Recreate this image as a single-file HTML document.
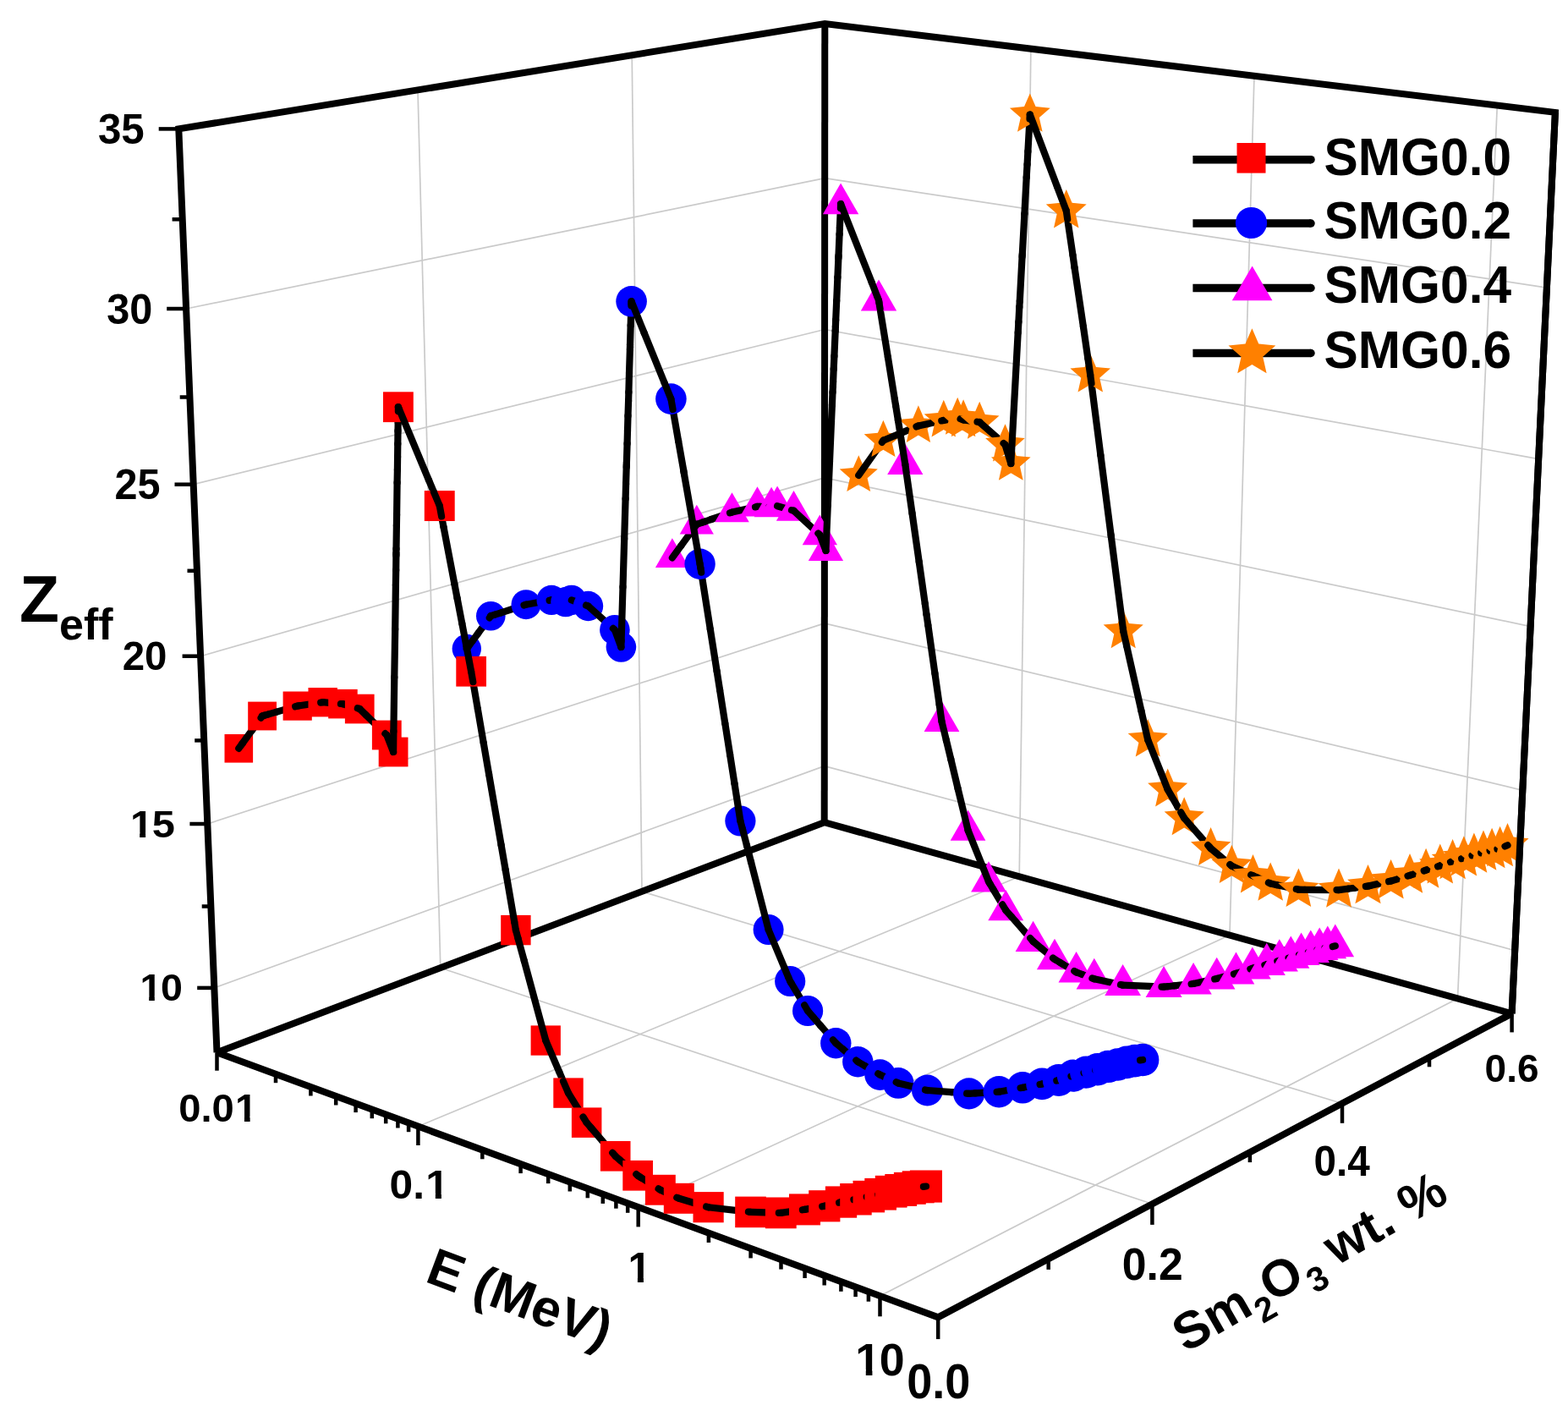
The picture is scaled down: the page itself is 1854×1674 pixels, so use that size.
<!DOCTYPE html>
<html><head><meta charset="utf-8"><style>html,body{margin:0;padding:0;background:#fff;}svg{display:block;}</style></head>
<body><svg xmlns="http://www.w3.org/2000/svg" width="1854" height="1674" viewBox="0 0 1854 1674">
<rect width="1854" height="1674" fill="#fff"/>
<g stroke="#cacaca" stroke-width="1.7" fill="none"><line x1="520.8" y1="1144.2" x2="494.0" y2="106.4" /><line x1="520.8" y1="1144.2" x2="1362.4" y2="1423.3" /><line x1="759.0" y1="1053.9" x2="747.2" y2="65.2" /><line x1="759.0" y1="1053.9" x2="1587.0" y2="1304.5" /><line x1="253.4" y1="1167.9" x2="974.7" y2="905.6" /><line x1="974.7" y1="905.6" x2="1791.2" y2="1123.7" /><line x1="245.3" y1="974.0" x2="974.8" y2="736.9" /><line x1="974.8" y1="736.9" x2="1800.3" y2="934.3" /><line x1="237.1" y1="775.7" x2="975.0" y2="564.9" /><line x1="975.0" y1="564.9" x2="1809.6" y2="740.6" /><line x1="228.7" y1="572.7" x2="975.1" y2="389.5" /><line x1="975.1" y1="389.5" x2="1819.1" y2="542.6" /><line x1="220.1" y1="365.0" x2="975.2" y2="210.6" /><line x1="975.2" y1="210.6" x2="1828.9" y2="340.1" /><line x1="1205.2" y1="1036.3" x2="1218.9" y2="57.7" /><line x1="494.4" y1="1331.6" x2="1205.2" y2="1036.3" /><line x1="1454.0" y1="1105.5" x2="1483.0" y2="89.7" /><line x1="754.7" y1="1427.2" x2="1454.0" y2="1105.5" /><line x1="1723.5" y1="1180.5" x2="1770.3" y2="124.6" /><line x1="1040.5" y1="1532.1" x2="1723.5" y2="1180.5" /></g>
<polyline points="256.5,1244.3 211.3,152.4 975.3,28.1 1838.9,132.9 1787.6,1198.3" stroke="#000" stroke-width="8" fill="none" stroke-linejoin="miter" stroke-miterlimit="2"/>
<polyline points="975.3,28.1 974.7,972.2" stroke="#000" stroke-width="8" fill="none" stroke-linejoin="miter" stroke-miterlimit="2"/>
<polygon points="974.7,972.2 256.5,1244.3 1109.2,1557.3 1787.6,1198.3" stroke="#000" stroke-width="8" fill="none" stroke-linejoin="miter" stroke-miterlimit="2"/>
<g stroke="#000" stroke-width="4.5" fill="none"><line x1="233.2" y1="1167.9" x2="253.4" y2="1167.9"/><line x1="224.4" y1="974.0" x2="245.3" y2="974.0"/><line x1="215.6" y1="775.7" x2="237.1" y2="775.7"/><line x1="206.5" y1="572.7" x2="228.7" y2="572.7"/><line x1="197.2" y1="365.0" x2="220.1" y2="365.0"/><line x1="187.7" y1="152.4" x2="211.3" y2="152.4"/><line x1="238.7" y1="1071.5" x2="249.4" y2="1071.5"/><line x1="230.2" y1="875.4" x2="241.2" y2="875.4"/><line x1="221.5" y1="674.8" x2="232.9" y2="674.8"/><line x1="212.7" y1="469.5" x2="224.4" y2="469.5"/><line x1="203.6" y1="259.3" x2="215.7" y2="259.3"/><line x1="256.5" y1="1244.3" x2="256.5" y2="1265.7"/><line x1="326.0" y1="1269.8" x2="326.0" y2="1280.2"/><line x1="367.4" y1="1285.0" x2="367.4" y2="1295.5"/><line x1="397.2" y1="1296.0" x2="397.2" y2="1306.5"/><line x1="420.6" y1="1304.5" x2="420.6" y2="1315.1"/><line x1="439.8" y1="1311.6" x2="439.8" y2="1322.2"/><line x1="456.2" y1="1317.6" x2="456.2" y2="1328.3"/><line x1="470.4" y1="1322.8" x2="470.4" y2="1333.5"/><line x1="483.1" y1="1327.5" x2="483.1" y2="1338.2"/><line x1="494.4" y1="1331.6" x2="494.4" y2="1354.0"/><line x1="570.3" y1="1359.5" x2="570.3" y2="1370.3"/><line x1="615.6" y1="1376.1" x2="615.6" y2="1387.1"/><line x1="648.2" y1="1388.1" x2="648.2" y2="1399.1"/><line x1="673.8" y1="1397.5" x2="673.8" y2="1408.5"/><line x1="694.8" y1="1405.2" x2="694.8" y2="1416.3"/><line x1="712.8" y1="1411.8" x2="712.8" y2="1422.9"/><line x1="728.4" y1="1417.5" x2="728.4" y2="1428.7"/><line x1="742.2" y1="1422.6" x2="742.2" y2="1433.8"/><line x1="754.7" y1="1427.2" x2="754.7" y2="1450.4"/><line x1="837.9" y1="1457.7" x2="837.9" y2="1469.0"/><line x1="887.6" y1="1476.0" x2="887.6" y2="1487.4"/><line x1="923.5" y1="1489.2" x2="923.5" y2="1500.6"/><line x1="951.6" y1="1499.5" x2="951.6" y2="1511.0"/><line x1="974.7" y1="1508.0" x2="974.7" y2="1519.5"/><line x1="994.4" y1="1515.2" x2="994.4" y2="1526.8"/><line x1="1011.6" y1="1521.5" x2="1011.6" y2="1533.1"/><line x1="1026.9" y1="1527.1" x2="1026.9" y2="1538.7"/><line x1="1040.5" y1="1532.1" x2="1040.5" y2="1556.3"/><line x1="1109.2" y1="1557.3" x2="1109.2" y2="1583.1"/><line x1="1239.7" y1="1488.3" x2="1239.7" y2="1500.9"/><line x1="1362.4" y1="1423.3" x2="1362.4" y2="1447.9"/><line x1="1477.9" y1="1362.2" x2="1477.9" y2="1374.1"/><line x1="1587.0" y1="1304.5" x2="1587.0" y2="1327.8"/><line x1="1690.0" y1="1249.9" x2="1690.0" y2="1261.3"/><line x1="1787.6" y1="1198.3" x2="1787.6" y2="1220.4"/></g>
<defs><clipPath id="c1_0" clipPathUnits="userSpaceOnUse"><rect x="-47.47" y="-97.57" width="146.35" height="91.32"/><rect x="12.59" y="-6.83" width="6.93" height="15.61"/></clipPath><clipPath id="c1_1" clipPathUnits="userSpaceOnUse"><rect x="-45.35" y="-93.23" width="139.84" height="87.26"/><rect x="12.03" y="-6.53" width="6.62" height="14.92"/></clipPath><clipPath id="c1_2" clipPathUnits="userSpaceOnUse"><rect x="19.66" y="-94.31" width="141.47" height="88.28"/><rect x="77.71" y="-6.60" width="6.70" height="15.09"/></clipPath><clipPath id="c1_3" clipPathUnits="userSpaceOnUse"><rect x="-6.91" y="-99.47" width="149.20" height="93.10"/><rect x="54.31" y="-6.96" width="7.06" height="15.92"/></clipPath><clipPath id="c1_4" clipPathUnits="userSpaceOnUse"><rect x="-48.08" y="-98.82" width="148.24" height="92.50"/><rect x="12.75" y="-6.92" width="7.02" height="15.81"/></clipPath><clipPath id="c1_5" clipPathUnits="userSpaceOnUse"><rect x="-52.31" y="-107.52" width="161.28" height="100.64"/><rect x="13.87" y="-7.53" width="7.63" height="17.20"/></clipPath></defs>
<g font-family="Liberation Sans, Arial, Helvetica, sans-serif" font-weight="bold" fill="#000"><g transform="translate(115.97,169.53) scale(1,1.030)" font-size="49.27"><text x="0.00" y="0">35</text></g><g transform="translate(126.28,382.53) scale(1,1.034)" font-size="48.65"><text x="0.00" y="0">30</text></g><g transform="translate(135.52,589.62) scale(1,1.012)" font-size="48.58"><text x="0.00" y="0">25</text></g><g transform="translate(144.65,792.04) scale(1,0.994)" font-size="47.46"><text x="0.00" y="0">20</text></g><g transform="translate(152.59,989.77) scale(1,0.901)" font-size="48.78"><text x="1.32" y="0" clip-path="url(#c1_0)">1</text><text x="27.12" y="0">5</text></g><g transform="translate(164.16,1183.07) scale(1,0.946)" font-size="46.61"><text x="1.26" y="0" clip-path="url(#c1_1)">1</text><text x="25.92" y="0">0</text></g><g transform="translate(211.23,1325.64) scale(1,0.991)" font-size="47.16"><text x="0.00" y="0">0.0</text><text x="66.82" y="0" clip-path="url(#c1_2)">1</text></g><g transform="translate(460.53,1417.03) scale(1,0.970)" font-size="49.73"><text x="0.00" y="0">0.</text><text x="42.82" y="0" clip-path="url(#c1_3)">1</text></g><g transform="translate(741.15,1516.40) scale(1,1.023)" font-size="49.41"><text x="1.33" y="0" clip-path="url(#c1_4)">1</text></g><g transform="translate(1009.91,1625.97) scale(1,1.010)" font-size="53.76"><text x="1.45" y="0" clip-path="url(#c1_5)">1</text><text x="29.89" y="0">0</text></g><g transform="translate(1072.26,1652.74) scale(1,1.066)" font-size="54.06"><text x="0.00" y="0">0.0</text></g><g transform="translate(1326.85,1513.38) scale(1,1.024)" font-size="51.73"><text x="0.00" y="0">0.2</text></g><g transform="translate(1553.52,1389.62) scale(1,1.032)" font-size="47.65"><text x="0.00" y="0">0.4</text></g><g transform="translate(1755.58,1278.84) scale(1,1.014)" font-size="45.95"><text x="0.00" y="0">0.6</text></g></g>
<text font-family="Liberation Sans, Arial, Helvetica, sans-serif" font-weight="bold" x="23" y="735" font-size="77">Z<tspan font-size="52" dy="21">eff</tspan></text>
<text font-family="Liberation Sans, Arial, Helvetica, sans-serif" font-weight="bold" font-size="62" transform="translate(501,1514.4) rotate(20.6)">E (MeV)</text>
<text font-family="Liberation Sans, Arial, Helvetica, sans-serif" font-weight="bold" font-size="61" transform="translate(1401.7,1599.5) rotate(-29.9)">Sm<tspan font-size="41" dy="16" dx="1.5">2</tspan><tspan dy="-16" dx="-1">O</tspan><tspan font-size="41" dy="16" dx="2">3</tspan><tspan dy="-16" dx="-1.5"> wt. %</tspan></text>
<polygon points="1015.3,538.2 1021.7,553.1 1037.8,554.6 1025.6,565.3 1029.2,581.1 1015.3,572.8 1001.3,581.1 1004.9,565.3 992.7,554.6 1008.8,553.1" fill="#ff8000"/><g stroke="#000" stroke-width="8.2" stroke-linecap="round"><line x1="1015.3" y1="561.9" x2="1042.9" y2="522.8"/></g><polygon points="1044.4,496.8 1050.9,511.8 1067.1,513.3 1054.9,524.1 1058.5,540.0 1044.4,531.7 1030.4,540.0 1033.9,524.1 1021.7,513.3 1037.9,511.8" fill="#ff8000"/><g stroke="#000" stroke-width="8.2" stroke-linecap="round"><line x1="1042.9" y1="522.8" x2="1044.4" y2="520.7"/><line x1="1044.4" y1="520.7" x2="1083.5" y2="504.4"/></g><polygon points="1085.9,479.3 1092.4,494.4 1108.9,496.0 1096.5,506.8 1100.1,522.9 1085.9,514.5 1071.8,522.9 1075.4,506.8 1063.0,496.0 1079.4,494.4" fill="#ff8000"/><g stroke="#000" stroke-width="8.2" stroke-linecap="round"><line x1="1083.5" y1="504.4" x2="1085.9" y2="503.4"/><line x1="1085.9" y1="503.4" x2="1113.3" y2="497.4"/></g><polygon points="1115.8,472.7 1122.3,487.9 1138.8,489.4 1126.4,500.3 1130.0,516.5 1115.8,508.0 1101.5,516.5 1105.2,500.3 1092.7,489.4 1109.2,487.9" fill="#ff8000"/><g stroke="#000" stroke-width="8.2" stroke-linecap="round"><line x1="1113.3" y1="497.4" x2="1115.8" y2="496.9"/><line x1="1115.8" y1="496.9" x2="1129.4" y2="494.5"/></g><polygon points="1132.2,469.7 1138.7,485.0 1155.3,486.5 1142.8,497.5 1146.5,513.7 1132.2,505.2 1117.9,513.7 1121.5,497.5 1109.1,486.5 1125.6,485.0" fill="#ff8000"/><g stroke="#000" stroke-width="8.2" stroke-linecap="round"><line x1="1129.4" y1="494.5" x2="1132.2" y2="494.0"/><line x1="1132.2" y1="494.0" x2="1135.6" y2="495.2"/></g><polygon points="1139.1,472.2 1145.7,487.4 1162.2,489.0 1149.7,500.0 1153.4,516.2 1139.1,507.7 1124.8,516.2 1128.4,500.0 1115.9,489.0 1132.5,487.4" fill="#ff8000"/><g stroke="#000" stroke-width="8.2" stroke-linecap="round"><line x1="1135.6" y1="495.2" x2="1139.1" y2="496.5"/><line x1="1139.1" y1="496.5" x2="1155.5" y2="498.7"/></g><polygon points="1158.2,474.7 1164.8,490.0 1181.5,491.6 1168.9,502.6 1172.6,518.8 1158.2,510.3 1143.9,518.8 1147.6,502.6 1135.0,491.6 1151.6,490.0" fill="#ff8000"/><g stroke="#000" stroke-width="8.2" stroke-linecap="round"><line x1="1155.5" y1="498.7" x2="1158.2" y2="499.1"/><line x1="1158.2" y1="499.1" x2="1186.6" y2="524.0"/></g><polygon points="1195.3,523.5 1201.9,538.9 1218.6,540.4 1206.0,551.5 1209.7,567.8 1195.3,559.3 1180.9,567.8 1184.5,551.5 1172.0,540.4 1188.6,538.9" fill="#ff8000"/><polygon points="1188.5,501.2 1195.1,516.6 1211.8,518.1 1199.2,529.2 1202.9,545.5 1188.5,537.0 1174.0,545.5 1177.7,529.2 1165.1,518.1 1181.8,516.6" fill="#ff8000"/><g stroke="#000" stroke-width="8.2" stroke-linecap="round"><line x1="1186.6" y1="524.0" x2="1188.5" y2="525.7"/><line x1="1188.5" y1="525.7" x2="1195.3" y2="548.0"/><line x1="1195.3" y1="548.0" x2="1203.7" y2="393.0"/></g><polygon points="1357.2,849.9 1363.9,865.4 1380.8,867.0 1368.1,878.1 1371.8,894.6 1357.2,886.0 1342.7,894.6 1346.4,878.1 1333.7,867.0 1350.5,865.4" fill="#ff8000"/><g stroke="#000" stroke-width="8.2" stroke-linecap="round"><line x1="1203.7" y1="393.0" x2="1204.4" y2="380.6"/><line x1="1357.2" y1="874.6" x2="1373.2" y2="914.6"/><line x1="1349.4" y1="840.1" x2="1357.2" y2="874.6"/></g><polygon points="1380.7,908.6 1387.4,924.2 1404.2,925.7 1391.5,936.9 1395.2,953.4 1380.7,944.8 1366.1,953.4 1369.8,936.9 1357.1,925.7 1374.0,924.2" fill="#ff8000"/><g stroke="#000" stroke-width="8.2" stroke-linecap="round"><line x1="1332.1" y1="763.4" x2="1349.4" y2="840.1"/><line x1="1373.2" y1="914.6" x2="1380.7" y2="933.4"/><line x1="1204.4" y1="380.6" x2="1205.3" y2="363.1"/><line x1="1380.7" y1="933.4" x2="1392.4" y2="953.6"/></g><polygon points="1328.2,721.3 1334.9,736.9 1351.8,738.4 1339.0,749.6 1342.8,766.2 1328.2,757.5 1313.6,766.2 1317.3,749.6 1304.6,738.4 1321.5,736.9" fill="#ff8000"/><g stroke="#000" stroke-width="8.2" stroke-linecap="round"><line x1="1328.2" y1="746.1" x2="1332.1" y2="763.4"/><line x1="1205.3" y1="363.1" x2="1205.8" y2="355.7"/><line x1="1392.4" y1="953.6" x2="1396.3" y2="960.4"/><line x1="1327.9" y1="743.6" x2="1328.2" y2="746.1"/></g><polygon points="1400.2,942.3 1406.9,957.9 1423.8,959.4 1411.1,970.6 1414.8,987.2 1400.2,978.5 1385.6,987.2 1389.4,970.6 1376.6,959.4 1393.5,957.9" fill="#ff8000"/><g stroke="#000" stroke-width="8.2" stroke-linecap="round"><line x1="1313.9" y1="635.0" x2="1327.9" y2="743.6"/><line x1="1396.3" y1="960.4" x2="1400.2" y2="967.1"/><line x1="1205.8" y1="355.7" x2="1208.6" y2="303.1"/><line x1="1400.2" y1="967.1" x2="1428.3" y2="999.2"/></g><polygon points="1431.6,978.1 1438.4,993.7 1455.3,995.3 1442.5,1006.5 1446.3,1023.1 1431.6,1014.4 1417.0,1023.1 1420.7,1006.5 1408.0,995.3 1424.9,993.7" fill="#ff8000"/><g stroke="#000" stroke-width="8.2" stroke-linecap="round"><line x1="1428.3" y1="999.2" x2="1430.0" y2="1001.1"/><line x1="1208.6" y1="303.1" x2="1208.8" y2="300.5"/><line x1="1313.6" y1="632.6" x2="1313.9" y2="635.0"/></g><polygon points="794.9,636.3 814.9,670.9 774.9,670.9" fill="#ff00ff"/><g stroke="#000" stroke-width="8.2" stroke-linecap="round"><line x1="1301.4" y1="538.2" x2="1313.6" y2="632.6"/><line x1="1430.0" y1="1001.1" x2="1431.6" y2="1003.0"/><line x1="1208.8" y1="300.5" x2="1211.4" y2="252.7"/><line x1="1431.6" y1="1003.0" x2="1454.3" y2="1022.0"/><line x1="794.9" y1="659.4" x2="805.5" y2="644.9"/></g><polygon points="1456.4,998.7 1463.1,1014.4 1480.1,1016.0 1467.3,1027.2 1471.0,1043.9 1456.4,1035.2 1441.7,1043.9 1445.4,1027.2 1432.6,1016.0 1449.6,1014.4" fill="#ff8000"/><g stroke="#000" stroke-width="8.2" stroke-linecap="round"><line x1="1290.5" y1="453.2" x2="1301.4" y2="538.2"/><line x1="1211.4" y1="252.7" x2="1213.7" y2="209.6"/><line x1="1454.3" y1="1022.0" x2="1456.4" y2="1023.7"/><line x1="805.5" y1="644.9" x2="816.1" y2="630.4"/><line x1="1456.4" y1="1023.7" x2="1472.3" y2="1031.0"/></g><polygon points="1289.2,418.2 1296.0,433.9 1313.0,435.5 1300.2,446.8 1304.0,463.5 1289.2,454.7 1274.5,463.5 1278.3,446.8 1265.4,435.5 1282.5,433.9" fill="#ff8000"/><g stroke="#000" stroke-width="8.2" stroke-linecap="round"><line x1="1472.3" y1="1031.0" x2="1479.2" y2="1034.2"/><line x1="1289.2" y1="443.2" x2="1290.5" y2="453.2"/><line x1="1213.7" y1="209.6" x2="1214.6" y2="194.3"/><line x1="1286.3" y1="423.4" x2="1289.2" y2="443.2"/><line x1="816.1" y1="630.4" x2="819.2" y2="626.2"/></g><polygon points="1481.5,1010.1 1488.3,1025.9 1505.3,1027.5 1492.5,1038.8 1496.2,1055.5 1481.5,1046.7 1466.8,1055.5 1470.5,1038.8 1457.7,1027.5 1474.7,1025.9" fill="#ff8000"/><g stroke="#000" stroke-width="8.2" stroke-linecap="round"><line x1="1280.9" y1="386.2" x2="1286.3" y2="423.4"/><line x1="1479.2" y1="1034.2" x2="1481.5" y2="1035.2"/><line x1="1214.6" y1="194.3" x2="1215.4" y2="179.0"/><line x1="819.2" y1="626.2" x2="822.3" y2="622.0"/><line x1="1481.5" y1="1035.2" x2="1486.1" y2="1037.3"/></g><polygon points="823.8,596.7 843.9,631.5 803.7,631.5" fill="#ff00ff"/><g stroke="#000" stroke-width="8.2" stroke-linecap="round"><line x1="1270.6" y1="316.6" x2="1280.9" y2="386.2"/><line x1="1215.4" y1="179.0" x2="1217.1" y2="148.3"/><line x1="1486.1" y1="1037.3" x2="1499.9" y2="1043.5"/><line x1="822.3" y1="622.0" x2="823.8" y2="619.9"/><line x1="823.8" y1="619.9" x2="831.1" y2="617.4"/></g><polygon points="1502.2,1019.4 1509.0,1035.1 1526.1,1036.7 1513.2,1048.1 1517.0,1064.8 1502.2,1056.1 1487.4,1064.8 1491.2,1048.1 1478.3,1036.7 1495.4,1035.1" fill="#ff8000"/><g stroke="#000" stroke-width="8.2" stroke-linecap="round"><line x1="1217.1" y1="148.3" x2="1217.5" y2="140.6"/><line x1="1268.5" y1="301.6" x2="1270.6" y2="316.6"/><line x1="831.1" y1="617.4" x2="833.5" y2="616.6"/><line x1="1499.9" y1="1043.5" x2="1502.2" y2="1044.5"/></g><polygon points="1217.8,110.4 1224.6,126.1 1241.7,127.7 1228.8,139.1 1232.6,155.8 1217.8,147.1 1203.0,155.8 1206.8,139.1 1193.9,127.7 1211.0,126.1" fill="#ff8000"/><g stroke="#000" stroke-width="8.2" stroke-linecap="round"><line x1="1502.2" y1="1044.5" x2="1509.8" y2="1046.2"/><line x1="1262.2" y1="259.2" x2="1268.5" y2="301.6"/><line x1="1217.5" y1="140.6" x2="1217.8" y2="135.5"/><line x1="833.5" y1="616.6" x2="840.9" y2="614.0"/><line x1="1217.8" y1="135.5" x2="1250.0" y2="220.7"/></g><polygon points="1260.8,224.0 1267.6,239.8 1284.7,241.4 1271.8,252.8 1275.5,269.6 1260.8,260.8 1246.0,269.6 1249.7,252.8 1236.8,241.4 1253.9,239.8" fill="#ff8000"/><g stroke="#000" stroke-width="8.2" stroke-linecap="round"><line x1="1250.0" y1="220.7" x2="1260.8" y2="249.2"/><line x1="1509.8" y1="1046.2" x2="1532.8" y2="1051.1"/><line x1="1260.8" y1="249.2" x2="1262.2" y2="259.2"/><line x1="840.9" y1="614.0" x2="858.1" y2="608.1"/></g><polygon points="1535.4,1026.4 1542.2,1042.3 1559.4,1043.9 1546.4,1055.3 1550.2,1072.1 1535.4,1063.3 1520.5,1072.1 1524.3,1055.3 1511.3,1043.9 1528.5,1042.3" fill="#ff8000"/><g stroke="#000" stroke-width="8.2" stroke-linecap="round"><line x1="1532.8" y1="1051.1" x2="1535.4" y2="1051.7"/><line x1="858.1" y1="608.1" x2="863.0" y2="606.4"/><line x1="1535.4" y1="1051.7" x2="1542.8" y2="1051.8"/></g><polygon points="865.5,582.2 885.8,617.3 845.2,617.3" fill="#ff00ff"/><g stroke="#000" stroke-width="8.2" stroke-linecap="round"><line x1="863.0" y1="606.4" x2="865.5" y2="605.6"/><line x1="1542.8" y1="1051.8" x2="1578.0" y2="1052.1"/><line x1="865.5" y1="605.6" x2="893.0" y2="599.4"/></g><polygon points="895.5,575.2 915.9,610.6 875.1,610.6" fill="#ff00ff"/><g stroke="#000" stroke-width="8.2" stroke-linecap="round"><line x1="893.0" y1="599.4" x2="895.5" y2="598.8"/><line x1="1578.0" y1="1052.1" x2="1580.5" y2="1052.1"/><line x1="895.5" y1="598.8" x2="898.3" y2="598.9"/></g><polygon points="1583.0,1026.6 1589.9,1042.6 1607.2,1044.2 1594.2,1055.7 1598.0,1072.7 1583.0,1063.8 1568.1,1072.7 1571.9,1055.7 1558.8,1044.2 1576.2,1042.6" fill="#ff8000"/><g stroke="#000" stroke-width="8.2" stroke-linecap="round"><line x1="1580.5" y1="1052.1" x2="1583.0" y2="1052.1"/><line x1="898.3" y1="598.9" x2="909.3" y2="599.3"/><line x1="1583.0" y1="1052.1" x2="1593.6" y2="1050.7"/></g><polygon points="912.1,575.8 932.5,611.2 891.6,611.2" fill="#ff00ff"/><g stroke="#000" stroke-width="8.2" stroke-linecap="round"><line x1="1593.6" y1="1050.7" x2="1601.5" y2="1049.7"/><line x1="909.3" y1="599.3" x2="912.1" y2="599.4"/><line x1="912.1" y1="599.4" x2="919.1" y2="598.2"/></g><polygon points="919.1,574.5 939.6,610.0 898.6,610.0" fill="#ff00ff"/><g stroke="#000" stroke-width="8.2" stroke-linecap="round"><line x1="1601.5" y1="1049.7" x2="1614.8" y2="1047.9"/><line x1="919.1" y1="598.2" x2="931.2" y2="601.7"/></g><polygon points="1617.5,1022.0 1624.4,1038.1 1641.9,1039.7 1628.7,1051.2 1632.6,1068.3 1617.5,1059.4 1602.4,1068.3 1606.3,1051.2 1593.1,1039.7 1610.6,1038.1" fill="#ff8000"/><g stroke="#000" stroke-width="8.2" stroke-linecap="round"><line x1="1614.8" y1="1047.9" x2="1617.5" y2="1047.6"/><line x1="931.2" y1="601.7" x2="936.0" y2="603.1"/><line x1="1617.5" y1="1047.6" x2="1620.0" y2="1047.1"/></g><polygon points="938.5,580.1 959.0,615.7 917.9,615.7" fill="#ff00ff"/><g stroke="#000" stroke-width="8.2" stroke-linecap="round"><line x1="1620.0" y1="1047.1" x2="1642.1" y2="1042.1"/><line x1="936.0" y1="603.1" x2="938.5" y2="603.8"/><line x1="938.5" y1="603.8" x2="965.4" y2="628.7"/></g><polygon points="1644.6,1015.9 1651.6,1032.0 1669.1,1033.6 1655.9,1045.3 1659.7,1062.4 1644.6,1053.4 1629.5,1062.4 1633.4,1045.3 1620.1,1033.6 1637.7,1032.0" fill="#ff8000"/><g stroke="#000" stroke-width="8.2" stroke-linecap="round"><line x1="965.4" y1="628.7" x2="967.4" y2="630.5"/><line x1="1642.1" y1="1042.1" x2="1644.6" y2="1041.6"/></g><polygon points="969.3,608.5 990.0,644.2 948.7,644.2" fill="#ff00ff"/><g stroke="#000" stroke-width="8.2" stroke-linecap="round"><line x1="967.4" y1="630.5" x2="969.3" y2="632.3"/></g><polygon points="976.5,627.2 997.1,662.9 955.8,662.9" fill="#ff00ff"/><g stroke="#000" stroke-width="8.2" stroke-linecap="round"><line x1="969.3" y1="632.3" x2="976.5" y2="651.0"/><line x1="1644.6" y1="1041.6" x2="1664.5" y2="1035.6"/><line x1="976.5" y1="651.0" x2="978.8" y2="597.2"/></g><polygon points="1667.0,1009.0 1674.0,1025.2 1691.6,1026.8 1678.3,1038.5 1682.2,1055.7 1667.0,1046.7 1651.8,1055.7 1655.7,1038.5 1642.5,1026.8 1660.0,1025.2" fill="#ff8000"/><g stroke="#000" stroke-width="8.2" stroke-linecap="round"><line x1="1664.5" y1="1035.6" x2="1667.0" y2="1034.8"/><line x1="978.8" y1="597.2" x2="981.0" y2="545.5"/><line x1="1667.0" y1="1034.8" x2="1683.7" y2="1029.5"/></g><polygon points="1686.1,1002.8 1693.1,1019.1 1710.8,1020.7 1697.5,1032.4 1701.4,1049.7 1686.1,1040.6 1670.9,1049.7 1674.8,1032.4 1661.5,1020.7 1679.1,1019.1" fill="#ff8000"/><g stroke="#000" stroke-width="8.2" stroke-linecap="round"><line x1="981.0" y1="545.5" x2="983.0" y2="498.5"/><line x1="1683.7" y1="1029.5" x2="1686.1" y2="1028.7"/><line x1="1686.1" y1="1028.7" x2="1700.0" y2="1024.3"/></g><polygon points="1702.8,997.4 1709.8,1013.7 1727.5,1015.4 1714.2,1027.1 1718.1,1044.4 1702.8,1035.4 1687.5,1044.4 1691.4,1027.1 1678.1,1015.4 1695.8,1013.7" fill="#ff8000"/><g stroke="#000" stroke-width="8.2" stroke-linecap="round"><line x1="1700.0" y1="1024.3" x2="1702.8" y2="1023.4"/><line x1="983.0" y1="498.5" x2="983.9" y2="478.6"/><line x1="1702.8" y1="1023.4" x2="1707.7" y2="1021.6"/></g><polygon points="1144.6,957.5 1165.4,993.7 1123.7,993.7" fill="#ff00ff"/><g stroke="#000" stroke-width="8.2" stroke-linecap="round"><line x1="983.9" y1="478.6" x2="984.5" y2="463.6"/><line x1="1707.7" y1="1021.6" x2="1712.7" y2="1019.9"/><line x1="1132.6" y1="932.2" x2="1144.6" y2="981.6"/><line x1="1144.6" y1="981.6" x2="1161.5" y2="1023.6"/></g><polygon points="1169.0,1018.2 1189.9,1054.4 1148.1,1054.4" fill="#ff00ff"/><g stroke="#000" stroke-width="8.2" stroke-linecap="round"><line x1="1161.5" y1="1023.6" x2="1169.0" y2="1042.3"/><line x1="1124.3" y1="897.5" x2="1132.6" y2="932.2"/><line x1="1712.7" y1="1019.9" x2="1715.1" y2="1019.0"/><line x1="984.5" y1="463.6" x2="984.9" y2="456.2"/><line x1="1169.0" y1="1042.3" x2="1170.4" y2="1044.6"/></g><polygon points="1717.6,992.0 1724.6,1008.4 1742.4,1010.0 1729.0,1021.8 1732.9,1039.2 1717.6,1030.1 1702.3,1039.2 1706.2,1021.8 1692.8,1010.0 1710.5,1008.4" fill="#ff8000"/><g stroke="#000" stroke-width="8.2" stroke-linecap="round"><line x1="1170.4" y1="1044.6" x2="1174.4" y2="1051.3"/><line x1="1118.9" y1="875.2" x2="1124.3" y2="897.5"/><line x1="1715.1" y1="1019.0" x2="1717.6" y2="1018.1"/><line x1="984.9" y1="456.2" x2="985.1" y2="451.2"/></g><polygon points="1113.5,828.7 1134.4,865.0 1092.6,865.0" fill="#ff00ff"/><g stroke="#000" stroke-width="8.2" stroke-linecap="round"><line x1="1113.5" y1="852.9" x2="1118.9" y2="875.2"/><line x1="1174.4" y1="1051.3" x2="1185.2" y2="1069.4"/><line x1="985.1" y1="451.2" x2="985.7" y2="436.2"/><line x1="1717.6" y1="1018.1" x2="1722.9" y2="1016.6"/><line x1="1110.7" y1="833.1" x2="1113.5" y2="852.9"/></g><polygon points="1189.3,1052.0 1210.2,1088.3 1168.3,1088.3" fill="#ff00ff"/><g stroke="#000" stroke-width="8.2" stroke-linecap="round"><line x1="1185.2" y1="1069.4" x2="1189.3" y2="1076.2"/><line x1="1105.4" y1="796.0" x2="1110.7" y2="833.1"/><line x1="985.7" y1="436.2" x2="986.4" y2="421.1"/><line x1="1722.9" y1="1016.6" x2="1728.2" y2="1015.1"/><line x1="1189.3" y1="1076.2" x2="1196.1" y2="1083.9"/></g><polygon points="1730.9,988.3 1737.9,1004.7 1755.7,1006.3 1742.3,1018.1 1746.2,1035.5 1730.9,1026.4 1715.5,1035.5 1719.4,1018.1 1706.0,1006.3 1723.8,1004.7" fill="#ff8000"/><g stroke="#000" stroke-width="8.2" stroke-linecap="round"><line x1="986.4" y1="421.1" x2="987.7" y2="391.0"/><line x1="1728.2" y1="1015.1" x2="1730.9" y2="1014.4"/><line x1="1097.3" y1="738.9" x2="1105.4" y2="796.0"/><line x1="1196.1" y1="1083.9" x2="1211.4" y2="1101.3"/><line x1="1730.9" y1="1014.4" x2="1738.1" y2="1012.1"/></g><circle cx="551.8" cy="767.0" r="17.2" fill="#0000ff"/><g stroke="#000" stroke-width="8.2" stroke-linecap="round"><line x1="1738.1" y1="1012.1" x2="1740.5" y2="1011.4"/><line x1="1211.4" y1="1101.3" x2="1214.8" y2="1105.2"/><line x1="1095.5" y1="726.5" x2="1097.3" y2="738.9"/><line x1="987.7" y1="391.0" x2="987.9" y2="385.9"/></g><polygon points="1742.9,984.4 1750.0,1000.9 1767.8,1002.5 1754.4,1014.3 1758.3,1031.8 1742.9,1022.6 1727.5,1031.8 1731.5,1014.3 1718.0,1002.5 1735.8,1000.9" fill="#ff8000"/><g stroke="#000" stroke-width="8.2" stroke-linecap="round"><line x1="1214.8" y1="1105.2" x2="1218.2" y2="1109.1"/><line x1="1093.8" y1="714.0" x2="1095.5" y2="726.5"/><line x1="1740.5" y1="1011.4" x2="1742.9" y2="1010.6"/><line x1="987.9" y1="385.9" x2="988.2" y2="378.4"/><line x1="551.8" y1="767.0" x2="553.3" y2="765.0"/></g><polygon points="1221.6,1088.7 1242.6,1125.1 1200.6,1125.1" fill="#ff00ff"/><g stroke="#000" stroke-width="8.2" stroke-linecap="round"><line x1="1218.2" y1="1109.1" x2="1221.6" y2="1113.0"/><line x1="1086.7" y1="664.1" x2="1093.8" y2="714.0"/><line x1="1742.9" y1="1010.6" x2="1751.2" y2="1008.4"/><line x1="553.3" y1="765.0" x2="559.3" y2="756.8"/><line x1="988.2" y1="378.4" x2="989.2" y2="355.6"/><line x1="1221.6" y1="1113.0" x2="1231.3" y2="1121.1"/></g><polygon points="1754.0,981.4 1761.1,997.8 1778.9,999.5 1765.4,1011.3 1769.4,1028.8 1754.0,1019.7 1738.5,1028.8 1742.5,1011.3 1729.0,999.5 1746.9,997.8" fill="#ff8000"/><g stroke="#000" stroke-width="8.2" stroke-linecap="round"><line x1="1751.2" y1="1008.4" x2="1754.0" y2="1007.6"/><line x1="1078.5" y1="606.6" x2="1086.7" y2="664.1"/><line x1="989.2" y1="355.6" x2="990.4" y2="327.8"/><line x1="1231.3" y1="1121.1" x2="1245.0" y2="1132.5"/><line x1="559.3" y1="756.8" x2="565.3" y2="748.7"/><line x1="1754.0" y1="1007.6" x2="1761.6" y2="1005.7"/></g><polygon points="1764.1,978.7 1771.2,995.2 1789.1,996.9 1775.6,1008.7 1779.6,1026.3 1764.1,1017.1 1748.7,1026.3 1752.6,1008.7 1739.2,996.9 1757.0,995.2" fill="#ff8000"/><polygon points="1247.0,1109.8 1268.1,1146.3 1225.9,1146.3" fill="#ff00ff"/><g stroke="#000" stroke-width="8.2" stroke-linecap="round"><line x1="1071.7" y1="558.9" x2="1078.5" y2="606.6"/><line x1="1761.6" y1="1005.7" x2="1764.1" y2="1005.0"/><line x1="990.4" y1="327.8" x2="991.4" y2="304.9"/><line x1="565.3" y1="748.7" x2="571.3" y2="740.5"/><line x1="1245.0" y1="1132.5" x2="1247.0" y2="1134.1"/><line x1="1247.0" y1="1134.1" x2="1254.0" y2="1138.3"/><line x1="1764.1" y1="1005.0" x2="1770.4" y2="1003.7"/></g><polygon points="1070.3,524.4 1091.4,561.0 1049.2,561.0" fill="#ff00ff"/><g stroke="#000" stroke-width="8.2" stroke-linecap="round"><line x1="1254.0" y1="1138.3" x2="1256.3" y2="1139.7"/><line x1="1071.0" y1="553.8" x2="1071.7" y2="558.9"/><line x1="991.4" y1="304.9" x2="991.5" y2="302.3"/></g><polygon points="1773.6,976.7 1780.7,993.2 1798.6,994.9 1785.1,1006.7 1789.1,1024.3 1773.6,1015.1 1758.1,1024.3 1762.1,1006.7 1748.6,994.9 1766.5,993.2" fill="#ff8000"/><g stroke="#000" stroke-width="8.2" stroke-linecap="round"><line x1="1770.4" y1="1003.7" x2="1773.6" y2="1003.0"/><line x1="1070.3" y1="548.8" x2="1071.0" y2="553.8"/><line x1="991.5" y1="302.3" x2="992.6" y2="276.8"/><line x1="1061.9" y1="496.8" x2="1070.3" y2="548.8"/><line x1="1256.3" y1="1139.7" x2="1267.9" y2="1146.6"/><line x1="571.3" y1="740.5" x2="577.3" y2="732.3"/><line x1="1773.6" y1="1003.0" x2="1779.5" y2="1000.5"/></g><polygon points="1782.5,972.9 1789.6,989.5 1807.6,991.2 1794.0,1003.0 1798.0,1020.6 1782.5,1011.4 1767.0,1020.6 1771.0,1003.0 1757.4,991.2 1775.4,989.5" fill="#ff8000"/><g stroke="#000" stroke-width="8.2" stroke-linecap="round"><line x1="1059.1" y1="479.5" x2="1061.9" y2="496.8"/><line x1="1779.5" y1="1000.5" x2="1782.5" y2="999.3"/><line x1="992.6" y1="276.8" x2="992.9" y2="269.2"/><line x1="1267.9" y1="1146.6" x2="1270.3" y2="1148.0"/><line x1="577.3" y1="732.3" x2="578.8" y2="730.3"/></g><polygon points="1272.6,1125.0 1293.8,1161.6 1251.5,1161.6" fill="#ff00ff"/><g stroke="#000" stroke-width="8.2" stroke-linecap="round"><line x1="1057.9" y1="472.1" x2="1059.1" y2="479.5"/><line x1="992.9" y1="269.2" x2="993.0" y2="266.6"/><line x1="1270.3" y1="1148.0" x2="1272.6" y2="1149.4"/></g><circle cx="580.3" cy="728.2" r="17.3" fill="#0000ff"/><g stroke="#000" stroke-width="8.2" stroke-linecap="round"><line x1="1049.9" y1="422.4" x2="1057.9" y2="472.1"/><line x1="993.0" y1="266.6" x2="993.9" y2="246.1"/><line x1="578.8" y1="730.3" x2="580.3" y2="728.2"/><line x1="1272.6" y1="1149.4" x2="1279.7" y2="1152.0"/><line x1="580.3" y1="728.2" x2="585.2" y2="726.6"/></g><polygon points="994.1,216.5 1015.3,253.2 972.9,253.2" fill="#ff00ff"/><g stroke="#000" stroke-width="8.2" stroke-linecap="round"><line x1="993.9" y1="246.1" x2="994.1" y2="241.0"/><line x1="1040.6" y1="365.1" x2="1049.9" y2="422.4"/><line x1="1279.7" y1="1152.0" x2="1291.4" y2="1156.4"/><line x1="585.2" y1="726.6" x2="592.5" y2="724.3"/><line x1="994.1" y1="241.0" x2="1030.8" y2="334.1"/></g><polygon points="1039.0,330.6 1060.2,367.4 1017.8,367.4" fill="#ff00ff"/><g stroke="#000" stroke-width="8.2" stroke-linecap="round"><line x1="1030.8" y1="334.1" x2="1037.2" y2="350.4"/><line x1="1039.4" y1="357.6" x2="1040.6" y2="365.1"/></g><polygon points="1293.8,1132.8 1315.0,1169.6 1272.6,1169.6" fill="#ff00ff"/><g stroke="#000" stroke-width="8.2" stroke-linecap="round"><line x1="1037.2" y1="350.4" x2="1039.0" y2="355.1"/><line x1="1039.0" y1="355.1" x2="1039.4" y2="357.6"/><line x1="592.5" y1="724.3" x2="619.5" y2="715.5"/><line x1="1291.4" y1="1156.4" x2="1293.8" y2="1157.3"/><line x1="1293.8" y1="1157.3" x2="1325.0" y2="1164.1"/></g><polygon points="1327.6,1140.1 1349.0,1177.0 1306.3,1177.0" fill="#ff00ff"/><g stroke="#000" stroke-width="8.2" stroke-linecap="round"><line x1="1325.0" y1="1164.1" x2="1327.6" y2="1164.7"/></g><circle cx="622.0" cy="714.7" r="17.5" fill="#0000ff"/><g stroke="#000" stroke-width="8.2" stroke-linecap="round"><line x1="619.5" y1="715.5" x2="622.0" y2="714.7"/><line x1="1327.6" y1="1164.7" x2="1363.3" y2="1166.2"/><line x1="622.0" y1="714.7" x2="649.6" y2="709.8"/></g><circle cx="652.1" cy="709.4" r="17.6" fill="#0000ff"/><g stroke="#000" stroke-width="8.2" stroke-linecap="round"><line x1="649.6" y1="709.8" x2="652.1" y2="709.4"/><line x1="1363.3" y1="1166.2" x2="1373.5" y2="1166.6"/><line x1="652.1" y1="709.4" x2="660.5" y2="710.5"/></g><polygon points="1376.1,1141.9 1397.6,1179.1 1354.6,1179.1" fill="#ff00ff"/><g stroke="#000" stroke-width="8.2" stroke-linecap="round"><line x1="1373.5" y1="1166.6" x2="1376.1" y2="1166.7"/><line x1="660.5" y1="710.5" x2="666.0" y2="711.3"/><line x1="1376.1" y1="1166.7" x2="1381.1" y2="1166.2"/></g><circle cx="668.8" cy="711.7" r="17.6" fill="#0000ff"/><g stroke="#000" stroke-width="8.2" stroke-linecap="round"><line x1="666.0" y1="711.3" x2="668.8" y2="711.7"/><line x1="1381.1" y1="1166.2" x2="1388.6" y2="1165.3"/><line x1="668.8" y1="711.7" x2="675.8" y2="709.4"/></g><circle cx="675.8" cy="709.4" r="17.7" fill="#0000ff"/><g stroke="#000" stroke-width="8.2" stroke-linecap="round"><line x1="1388.6" y1="1165.3" x2="1408.6" y2="1163.2"/><line x1="675.8" y1="709.4" x2="693.0" y2="715.6"/></g><circle cx="695.5" cy="716.5" r="17.7" fill="#0000ff"/><g stroke="#000" stroke-width="8.2" stroke-linecap="round"><line x1="693.0" y1="715.6" x2="695.5" y2="716.5"/></g><polygon points="1411.1,1137.9 1432.8,1175.4 1389.5,1175.4" fill="#ff00ff"/><g stroke="#000" stroke-width="8.2" stroke-linecap="round"><line x1="1408.6" y1="1163.2" x2="1411.1" y2="1162.9"/><line x1="695.5" y1="716.5" x2="724.9" y2="742.9"/><line x1="1411.1" y1="1162.9" x2="1431.2" y2="1158.5"/></g><circle cx="726.9" cy="744.7" r="17.8" fill="#0000ff"/><g stroke="#000" stroke-width="8.2" stroke-linecap="round"><line x1="1431.2" y1="1158.5" x2="1433.7" y2="1158.0"/><line x1="724.9" y1="742.9" x2="726.9" y2="744.7"/></g><circle cx="734.4" cy="765.0" r="17.8" fill="#0000ff"/><g stroke="#000" stroke-width="8.2" stroke-linecap="round"><line x1="726.9" y1="744.7" x2="734.4" y2="765.0"/><line x1="734.4" y1="765.0" x2="734.6" y2="757.7"/><line x1="1433.7" y1="1158.0" x2="1436.2" y2="1157.4"/></g><polygon points="1438.7,1131.8 1460.5,1169.5 1416.9,1169.5" fill="#ff00ff"/><g stroke="#000" stroke-width="8.2" stroke-linecap="round"><line x1="734.6" y1="757.7" x2="736.5" y2="693.8"/><line x1="1436.2" y1="1157.4" x2="1438.7" y2="1156.9"/><line x1="1438.7" y1="1156.9" x2="1458.9" y2="1151.5"/></g><polygon points="1461.5,1125.6 1483.3,1163.4 1439.6,1163.4" fill="#ff00ff"/><g stroke="#000" stroke-width="8.2" stroke-linecap="round"><line x1="736.5" y1="693.8" x2="738.2" y2="636.9"/><line x1="1458.9" y1="1151.5" x2="1461.5" y2="1150.8"/><line x1="1461.5" y1="1150.8" x2="1478.4" y2="1145.6"/></g><polygon points="1480.9,1119.5 1502.8,1157.5 1458.9,1157.5" fill="#ff00ff"/><g stroke="#000" stroke-width="8.2" stroke-linecap="round"><line x1="1478.4" y1="1145.6" x2="1480.9" y2="1144.8"/><line x1="738.2" y1="636.9" x2="739.6" y2="589.6"/><line x1="1480.9" y1="1144.8" x2="1495.4" y2="1140.9"/></g><polygon points="1497.8,1114.8 1519.8,1152.9 1475.8,1152.9" fill="#ff00ff"/><g stroke="#000" stroke-width="8.2" stroke-linecap="round"><line x1="739.6" y1="589.6" x2="740.1" y2="572.1"/><line x1="1495.4" y1="1140.9" x2="1497.8" y2="1140.2"/><line x1="1497.8" y1="1140.2" x2="1502.8" y2="1138.7"/></g><circle cx="908.6" cy="1099.0" r="18.0" fill="#0000ff"/><g stroke="#000" stroke-width="8.2" stroke-linecap="round"><line x1="740.1" y1="572.1" x2="740.7" y2="552.0"/><line x1="1502.8" y1="1138.7" x2="1507.8" y2="1137.2"/><line x1="888.0" y1="1019.0" x2="908.6" y2="1099.0"/><line x1="908.6" y1="1099.0" x2="927.3" y2="1143.6"/></g><circle cx="934.2" cy="1160.0" r="18.1" fill="#0000ff"/><g stroke="#000" stroke-width="8.2" stroke-linecap="round"><line x1="883.0" y1="999.6" x2="888.0" y2="1019.0"/><line x1="927.3" y1="1143.6" x2="932.2" y2="1155.3"/><line x1="1507.8" y1="1137.2" x2="1510.3" y2="1136.5"/><line x1="740.7" y1="552.0" x2="740.8" y2="549.5"/></g><circle cx="875.4" cy="970.5" r="18.1" fill="#0000ff"/><g stroke="#000" stroke-width="8.2" stroke-linecap="round"><line x1="878.0" y1="980.2" x2="883.0" y2="999.6"/><line x1="932.2" y1="1155.3" x2="934.2" y2="1160.0"/><line x1="740.8" y1="549.5" x2="740.9" y2="547.0"/><line x1="934.2" y1="1160.0" x2="935.5" y2="1162.2"/></g><polygon points="1512.8,1110.2 1534.9,1148.4 1490.7,1148.4" fill="#ff00ff"/><g stroke="#000" stroke-width="8.2" stroke-linecap="round"><line x1="875.4" y1="970.5" x2="878.0" y2="980.2"/><line x1="740.9" y1="547.0" x2="741.6" y2="524.4"/><line x1="935.5" y1="1162.2" x2="951.2" y2="1188.4"/><line x1="1510.3" y1="1136.5" x2="1512.8" y2="1135.7"/><line x1="868.5" y1="926.4" x2="875.4" y2="970.5"/><line x1="1512.8" y1="1135.7" x2="1518.2" y2="1134.2"/></g><circle cx="955.1" cy="1195.0" r="18.1" fill="#0000ff"/><g stroke="#000" stroke-width="8.2" stroke-linecap="round"><line x1="951.2" y1="1188.4" x2="955.1" y2="1195.0"/><line x1="863.1" y1="892.0" x2="868.5" y2="926.4"/><line x1="741.6" y1="524.4" x2="742.0" y2="509.2"/><line x1="1518.2" y1="1134.2" x2="1523.6" y2="1132.7"/><line x1="955.1" y1="1195.0" x2="961.7" y2="1202.6"/></g><polygon points="1526.3,1106.4 1548.4,1144.7 1504.2,1144.7" fill="#ff00ff"/><g stroke="#000" stroke-width="8.2" stroke-linecap="round"><line x1="857.3" y1="855.1" x2="863.1" y2="892.0"/><line x1="742.0" y1="509.2" x2="742.5" y2="491.6"/><line x1="1523.6" y1="1132.7" x2="1526.3" y2="1131.9"/><line x1="961.7" y1="1202.6" x2="970.0" y2="1212.2"/><line x1="1526.3" y1="1131.9" x2="1531.2" y2="1130.4"/></g><rect x="265.5" y="868.0" width="33.6" height="33.6" fill="#ff0000"/><g stroke="#000" stroke-width="8.2" stroke-linecap="round"><line x1="851.1" y1="815.6" x2="857.3" y2="855.1"/><line x1="970.0" y1="1212.2" x2="980.0" y2="1223.6"/><line x1="742.5" y1="491.6" x2="743.1" y2="473.8"/><line x1="1531.2" y1="1130.4" x2="1536.1" y2="1128.9"/><line x1="282.3" y1="884.8" x2="285.4" y2="880.6"/></g><polygon points="1538.6,1102.6 1560.7,1141.0 1516.4,1141.0" fill="#ff00ff"/><g stroke="#000" stroke-width="8.2" stroke-linecap="round"><line x1="847.6" y1="793.3" x2="851.1" y2="815.6"/><line x1="743.1" y1="473.8" x2="743.4" y2="463.7"/><line x1="980.0" y1="1223.6" x2="985.0" y2="1229.4"/><line x1="1536.1" y1="1128.9" x2="1538.6" y2="1128.2"/><line x1="285.4" y1="880.6" x2="286.9" y2="878.5"/><line x1="1538.6" y1="1128.2" x2="1541.4" y2="1127.4"/></g><circle cx="988.3" cy="1233.2" r="18.2" fill="#0000ff"/><g stroke="#000" stroke-width="8.2" stroke-linecap="round"><line x1="839.8" y1="743.8" x2="847.6" y2="793.3"/><line x1="985.0" y1="1229.4" x2="988.3" y2="1233.2"/><line x1="743.4" y1="463.7" x2="744.0" y2="440.8"/><line x1="286.9" y1="878.5" x2="291.5" y2="872.1"/><line x1="1541.4" y1="1127.4" x2="1547.0" y2="1125.9"/><line x1="988.3" y1="1233.2" x2="996.3" y2="1240.0"/></g><polygon points="1549.8,1099.5 1572.0,1137.9 1527.6,1137.9" fill="#ff00ff"/><g stroke="#000" stroke-width="8.2" stroke-linecap="round"><line x1="1547.0" y1="1125.9" x2="1549.8" y2="1125.1"/><line x1="830.0" y1="681.6" x2="839.8" y2="743.8"/><line x1="291.5" y1="872.1" x2="297.7" y2="863.6"/><line x1="744.0" y1="440.8" x2="744.9" y2="412.7"/><line x1="996.3" y1="1240.0" x2="1010.3" y2="1251.8"/><line x1="1549.8" y1="1125.1" x2="1557.6" y2="1122.9"/></g><polygon points="1560.2,1096.4 1582.5,1134.9 1537.9,1134.9" fill="#ff00ff"/><g stroke="#000" stroke-width="8.2" stroke-linecap="round"><line x1="829.2" y1="676.7" x2="830.0" y2="681.6"/><line x1="744.9" y1="412.7" x2="745.0" y2="410.2"/><line x1="297.7" y1="863.6" x2="299.2" y2="861.5"/><line x1="1557.6" y1="1122.9" x2="1560.2" y2="1122.1"/></g><circle cx="827.6" cy="666.7" r="18.2" fill="#0000ff"/><g stroke="#000" stroke-width="8.2" stroke-linecap="round"><line x1="1010.3" y1="1251.8" x2="1012.3" y2="1253.5"/><line x1="828.4" y1="671.7" x2="829.2" y2="676.7"/><line x1="745.0" y1="410.2" x2="745.0" y2="407.6"/></g><circle cx="1014.3" cy="1255.2" r="18.2" fill="#0000ff"/><g stroke="#000" stroke-width="8.2" stroke-linecap="round"><line x1="827.6" y1="666.7" x2="828.4" y2="671.7"/><line x1="745.0" y1="407.6" x2="745.7" y2="384.6"/><line x1="1012.3" y1="1253.5" x2="1014.3" y2="1255.2"/><line x1="819.0" y1="617.5" x2="827.6" y2="666.7"/><line x1="299.2" y1="861.5" x2="303.9" y2="855.1"/><line x1="1560.2" y1="1122.1" x2="1566.6" y2="1120.9"/><line x1="1014.3" y1="1255.2" x2="1023.0" y2="1260.3"/></g><polygon points="1569.8,1094.6 1592.1,1133.2 1547.5,1133.2" fill="#ff00ff"/><g stroke="#000" stroke-width="8.2" stroke-linecap="round"><line x1="809.0" y1="560.7" x2="819.0" y2="617.5"/><line x1="1566.6" y1="1120.9" x2="1569.8" y2="1120.3"/><line x1="745.7" y1="384.6" x2="746.4" y2="361.4"/><line x1="303.9" y1="855.1" x2="308.6" y2="848.6"/><line x1="1023.0" y1="1260.3" x2="1031.8" y2="1265.5"/><line x1="1569.8" y1="1120.3" x2="1575.8" y2="1119.0"/></g><rect x="293.2" y="829.6" width="33.8" height="33.8" fill="#ff0000"/><g stroke="#000" stroke-width="8.2" stroke-linecap="round"><line x1="808.6" y1="558.3" x2="809.0" y2="560.7"/></g><circle cx="746.6" cy="356.3" r="18.3" fill="#0000ff"/><g stroke="#000" stroke-width="8.2" stroke-linecap="round"><line x1="808.2" y1="555.8" x2="808.6" y2="558.3"/><line x1="308.6" y1="848.6" x2="310.1" y2="846.5"/><line x1="746.4" y1="361.4" x2="746.5" y2="358.9"/></g><polygon points="1578.8,1092.5 1601.1,1131.2 1556.5,1131.2" fill="#ff00ff"/><g stroke="#000" stroke-width="8.2" stroke-linecap="round"><line x1="802.1" y1="521.2" x2="808.2" y2="555.8"/><line x1="1031.8" y1="1265.5" x2="1038.3" y2="1269.3"/><line x1="1575.8" y1="1119.0" x2="1578.8" y2="1118.3"/><line x1="746.5" y1="358.9" x2="746.6" y2="356.3"/><line x1="746.6" y1="356.3" x2="761.8" y2="393.9"/><line x1="310.1" y1="846.5" x2="312.5" y2="845.8"/></g><circle cx="1040.5" cy="1270.6" r="18.3" fill="#0000ff"/><g stroke="#000" stroke-width="8.2" stroke-linecap="round"><line x1="761.8" y1="393.9" x2="785.7" y2="452.7"/><line x1="795.6" y1="484.0" x2="802.1" y2="521.2"/><line x1="312.5" y1="845.8" x2="317.4" y2="844.4"/><line x1="1038.3" y1="1269.3" x2="1040.5" y2="1270.6"/><line x1="1040.5" y1="1270.6" x2="1045.3" y2="1272.8"/></g><circle cx="793.4" cy="471.6" r="18.3" fill="#0000ff"/><g stroke="#000" stroke-width="8.2" stroke-linecap="round"><line x1="785.7" y1="452.7" x2="793.4" y2="471.6"/><line x1="793.4" y1="471.6" x2="795.6" y2="484.0"/><line x1="317.4" y1="844.4" x2="327.1" y2="841.6"/><line x1="1045.3" y1="1272.8" x2="1059.7" y2="1279.3"/></g><circle cx="1062.1" cy="1280.4" r="18.4" fill="#0000ff"/><g stroke="#000" stroke-width="8.2" stroke-linecap="round"><line x1="327.1" y1="841.6" x2="349.2" y2="835.3"/><line x1="1059.7" y1="1279.3" x2="1062.1" y2="1280.4"/><line x1="1062.1" y1="1280.4" x2="1089.1" y2="1287.1"/></g><rect x="334.6" y="817.5" width="34.2" height="34.2" fill="#ff0000"/><g stroke="#000" stroke-width="8.2" stroke-linecap="round"><line x1="349.2" y1="835.3" x2="351.7" y2="834.6"/><line x1="1089.1" y1="1287.1" x2="1094.0" y2="1288.4"/><line x1="351.7" y1="834.6" x2="354.1" y2="834.2"/></g><circle cx="1096.5" cy="1289.0" r="18.5" fill="#0000ff"/><g stroke="#000" stroke-width="8.2" stroke-linecap="round"><line x1="1094.0" y1="1288.4" x2="1096.5" y2="1289.0"/><line x1="354.1" y1="834.2" x2="379.2" y2="830.6"/><line x1="1096.5" y1="1289.0" x2="1124.9" y2="1291.2"/></g><rect x="364.5" y="813.0" width="34.4" height="34.4" fill="#ff0000"/><g stroke="#000" stroke-width="8.2" stroke-linecap="round"><line x1="1124.9" y1="1291.2" x2="1143.1" y2="1292.7"/><line x1="379.2" y1="830.6" x2="381.7" y2="830.2"/><line x1="381.7" y1="830.2" x2="394.9" y2="831.3"/></g><circle cx="1145.7" cy="1292.9" r="18.6" fill="#0000ff"/><g stroke="#000" stroke-width="8.2" stroke-linecap="round"><line x1="394.9" y1="831.3" x2="402.9" y2="832.0"/><line x1="1143.1" y1="1292.7" x2="1145.7" y2="1292.9"/><line x1="1145.7" y1="1292.9" x2="1153.3" y2="1292.4"/></g><rect x="388.2" y="814.9" width="34.5" height="34.5" fill="#ff0000"/><g stroke="#000" stroke-width="8.2" stroke-linecap="round"><line x1="402.9" y1="832.0" x2="405.5" y2="832.2"/><line x1="1153.3" y1="1292.4" x2="1171.0" y2="1291.3"/><line x1="405.5" y1="832.2" x2="422.8" y2="837.3"/></g><rect x="407.9" y="820.7" width="34.7" height="34.7" fill="#ff0000"/><g stroke="#000" stroke-width="8.2" stroke-linecap="round"><line x1="1171.0" y1="1291.3" x2="1178.6" y2="1290.9"/><line x1="422.8" y1="837.3" x2="425.2" y2="838.0"/><line x1="425.2" y1="838.0" x2="432.7" y2="845.3"/></g><circle cx="1181.2" cy="1290.7" r="18.7" fill="#0000ff"/><g stroke="#000" stroke-width="8.2" stroke-linecap="round"><line x1="1178.6" y1="1290.9" x2="1181.2" y2="1290.7"/><line x1="432.7" y1="845.3" x2="455.4" y2="867.2"/><line x1="1181.2" y1="1290.7" x2="1196.4" y2="1288.0"/></g><rect x="439.9" y="851.6" width="34.8" height="34.8" fill="#ff0000"/><g stroke="#000" stroke-width="8.2" stroke-linecap="round"><line x1="455.4" y1="867.2" x2="457.3" y2="869.0"/></g><rect x="447.7" y="871.6" width="34.8" height="34.8" fill="#ff0000"/><g stroke="#000" stroke-width="8.2" stroke-linecap="round"><line x1="1196.4" y1="1288.0" x2="1206.6" y2="1286.2"/><line x1="457.3" y1="869.0" x2="465.1" y2="889.0"/><line x1="465.1" y1="889.0" x2="465.4" y2="864.6"/></g><circle cx="1209.1" cy="1285.8" r="18.8" fill="#0000ff"/><g stroke="#000" stroke-width="8.2" stroke-linecap="round"><line x1="1206.6" y1="1286.2" x2="1209.1" y2="1285.8"/><line x1="465.4" y1="864.6" x2="466.3" y2="800.8"/><line x1="1209.1" y1="1285.8" x2="1229.6" y2="1281.9"/></g><circle cx="1232.1" cy="1281.4" r="18.9" fill="#0000ff"/><g stroke="#000" stroke-width="8.2" stroke-linecap="round"><line x1="466.3" y1="800.8" x2="467.2" y2="743.9"/><line x1="1229.6" y1="1281.9" x2="1232.1" y2="1281.4"/><line x1="1232.1" y1="1281.4" x2="1249.3" y2="1277.6"/></g><circle cx="1251.8" cy="1277.0" r="19.0" fill="#0000ff"/><g stroke="#000" stroke-width="8.2" stroke-linecap="round"><line x1="467.2" y1="743.9" x2="467.9" y2="691.6"/><line x1="1249.3" y1="1277.6" x2="1251.8" y2="1277.0"/><line x1="1251.8" y1="1277.0" x2="1266.5" y2="1272.4"/></g><circle cx="1268.9" cy="1271.7" r="19.1" fill="#0000ff"/><g stroke="#000" stroke-width="8.2" stroke-linecap="round"><line x1="1266.5" y1="1272.4" x2="1268.9" y2="1271.7"/><line x1="467.9" y1="691.6" x2="468.2" y2="674.0"/><line x1="1268.9" y1="1271.7" x2="1274.0" y2="1270.4"/></g><rect x="627.6" y="1212.4" width="35.3" height="35.3" fill="#ff0000"/><g stroke="#000" stroke-width="8.2" stroke-linecap="round"><line x1="468.2" y1="674.0" x2="468.4" y2="656.5"/><line x1="619.8" y1="1135.9" x2="645.3" y2="1230.1"/><line x1="645.3" y1="1230.1" x2="661.1" y2="1266.8"/><line x1="1274.0" y1="1270.4" x2="1279.1" y2="1269.1"/></g><rect x="592.2" y="1081.9" width="35.4" height="35.4" fill="#ff0000"/><g stroke="#000" stroke-width="8.2" stroke-linecap="round"><line x1="612.5" y1="1109.3" x2="619.8" y2="1135.9"/><line x1="661.1" y1="1266.8" x2="666.0" y2="1278.3"/><line x1="468.4" y1="656.5" x2="468.4" y2="654.0"/><line x1="1279.1" y1="1269.1" x2="1281.6" y2="1268.4"/></g><rect x="654.3" y="1274.4" width="35.4" height="35.4" fill="#ff0000"/><g stroke="#000" stroke-width="8.2" stroke-linecap="round"><line x1="609.9" y1="1099.6" x2="612.5" y2="1109.3"/><line x1="468.4" y1="654.0" x2="468.5" y2="648.9"/><line x1="666.0" y1="1278.3" x2="672.0" y2="1292.1"/><line x1="608.2" y1="1089.8" x2="609.9" y2="1099.6"/></g><circle cx="1284.2" cy="1267.7" r="19.1" fill="#0000ff"/><g stroke="#000" stroke-width="8.2" stroke-linecap="round"><line x1="468.5" y1="648.9" x2="468.9" y2="621.2"/><line x1="672.0" y1="1292.1" x2="689.5" y2="1320.5"/><line x1="597.7" y1="1028.5" x2="608.2" y2="1089.8"/><line x1="1281.6" y1="1268.4" x2="1284.2" y2="1267.7"/><line x1="1284.2" y1="1267.7" x2="1292.4" y2="1265.7"/></g><rect x="675.9" y="1309.4" width="35.5" height="35.5" fill="#ff0000"/><g stroke="#000" stroke-width="8.2" stroke-linecap="round"><line x1="689.5" y1="1320.5" x2="693.6" y2="1327.1"/><line x1="592.6" y1="999.0" x2="597.7" y2="1028.5"/><line x1="468.9" y1="621.2" x2="469.1" y2="608.6"/><line x1="1292.4" y1="1265.7" x2="1295.1" y2="1265.0"/><line x1="693.6" y1="1327.1" x2="698.7" y2="1333.0"/></g><circle cx="1297.8" cy="1264.3" r="19.2" fill="#0000ff"/><g stroke="#000" stroke-width="8.2" stroke-linecap="round"><line x1="578.1" y1="915.2" x2="592.6" y2="999.0"/><line x1="469.1" y1="608.6" x2="469.6" y2="570.6"/><line x1="1295.1" y1="1265.0" x2="1297.8" y2="1264.3"/><line x1="698.7" y1="1333.0" x2="717.4" y2="1354.9"/><line x1="1297.8" y1="1264.3" x2="1307.8" y2="1261.6"/></g><circle cx="1310.3" cy="1260.9" r="19.2" fill="#0000ff"/><g stroke="#000" stroke-width="8.2" stroke-linecap="round"><line x1="571.7" y1="878.1" x2="578.1" y2="915.2"/><line x1="1307.8" y1="1261.6" x2="1310.3" y2="1260.9"/><line x1="469.6" y1="570.6" x2="469.9" y2="555.3"/><line x1="717.4" y1="1354.9" x2="724.2" y2="1362.8"/><line x1="1310.3" y1="1260.9" x2="1313.1" y2="1260.3"/></g><rect x="709.9" y="1349.0" width="35.6" height="35.6" fill="#ff0000"/><g stroke="#000" stroke-width="8.2" stroke-linecap="round"><line x1="724.2" y1="1362.8" x2="727.7" y2="1366.8"/><line x1="564.9" y1="838.4" x2="571.7" y2="878.1"/><line x1="1313.1" y1="1260.3" x2="1318.8" y2="1259.1"/><line x1="469.9" y1="555.3" x2="470.1" y2="540.1"/><line x1="727.7" y1="1366.8" x2="733.3" y2="1371.7"/></g><circle cx="1321.7" cy="1258.5" r="19.2" fill="#0000ff"/><g stroke="#000" stroke-width="8.2" stroke-linecap="round"><line x1="470.1" y1="540.1" x2="470.3" y2="524.8"/><line x1="559.3" y1="806.1" x2="564.9" y2="838.4"/><line x1="1318.8" y1="1259.1" x2="1321.7" y2="1258.5"/><line x1="733.3" y1="1371.7" x2="739.0" y2="1376.6"/><line x1="1321.7" y1="1258.5" x2="1324.3" y2="1257.9"/></g><rect x="539.3" y="775.9" width="35.7" height="35.7" fill="#ff0000"/><g stroke="#000" stroke-width="8.2" stroke-linecap="round"><line x1="739.0" y1="1376.6" x2="746.6" y2="1383.2"/><line x1="557.1" y1="793.7" x2="559.3" y2="806.1"/><line x1="470.3" y1="524.8" x2="470.5" y2="509.4"/><line x1="1324.3" y1="1257.9" x2="1329.6" y2="1256.6"/><line x1="551.5" y1="764.1" x2="557.1" y2="793.7"/></g><circle cx="1332.2" cy="1255.9" r="19.3" fill="#0000ff"/><g stroke="#000" stroke-width="8.2" stroke-linecap="round"><line x1="470.5" y1="509.4" x2="470.7" y2="499.2"/><line x1="546.3" y1="736.9" x2="551.5" y2="764.1"/><line x1="746.6" y1="1383.2" x2="752.3" y2="1388.2"/><line x1="1329.6" y1="1256.6" x2="1332.2" y2="1255.9"/><line x1="1332.2" y1="1255.9" x2="1335.5" y2="1255.3"/></g><rect x="736.3" y="1371.9" width="35.7" height="35.7" fill="#ff0000"/><g stroke="#000" stroke-width="8.2" stroke-linecap="round"><line x1="470.7" y1="499.2" x2="470.9" y2="486.3"/><line x1="540.6" y1="707.2" x2="546.3" y2="736.9"/><line x1="752.3" y1="1388.2" x2="754.2" y2="1389.8"/><line x1="754.2" y1="1389.8" x2="756.4" y2="1391.2"/><line x1="1335.5" y1="1255.3" x2="1338.7" y2="1254.7"/></g><rect x="453.0" y="463.3" width="35.8" height="35.8" fill="#ff0000"/><g stroke="#000" stroke-width="8.2" stroke-linecap="round"><line x1="537.3" y1="689.9" x2="540.6" y2="707.2"/><line x1="470.9" y1="486.3" x2="470.9" y2="481.2"/><line x1="756.4" y1="1391.2" x2="758.6" y2="1392.6"/><line x1="470.9" y1="481.2" x2="471.9" y2="483.5"/></g><circle cx="1342.0" cy="1254.1" r="19.3" fill="#0000ff"/><g stroke="#000" stroke-width="8.2" stroke-linecap="round"><line x1="471.9" y1="483.5" x2="507.0" y2="567.6"/><line x1="1338.7" y1="1254.7" x2="1342.0" y2="1254.1"/><line x1="758.6" y1="1392.6" x2="769.7" y2="1399.6"/><line x1="524.5" y1="622.9" x2="537.3" y2="689.9"/><line x1="1342.0" y1="1254.1" x2="1348.1" y2="1253.4"/></g><circle cx="1351.1" cy="1253.0" r="19.3" fill="#0000ff"/><g stroke="#000" stroke-width="8.2" stroke-linecap="round"><line x1="507.0" y1="567.6" x2="512.9" y2="581.6"/><line x1="522.1" y1="610.4" x2="524.5" y2="622.9"/><line x1="1348.1" y1="1253.4" x2="1351.1" y2="1253.0"/><line x1="769.7" y1="1399.6" x2="771.9" y2="1401.1"/></g><rect x="501.8" y="580.1" width="35.9" height="35.9" fill="#ff0000"/><g stroke="#000" stroke-width="8.2" stroke-linecap="round"><line x1="512.9" y1="581.6" x2="519.8" y2="598.0"/><line x1="519.8" y1="598.0" x2="522.1" y2="610.4"/><line x1="771.9" y1="1401.1" x2="778.6" y2="1405.3"/></g><rect x="762.9" y="1388.8" width="35.9" height="35.9" fill="#ff0000"/><g stroke="#000" stroke-width="8.2" stroke-linecap="round"><line x1="778.6" y1="1405.3" x2="780.9" y2="1406.7"/><line x1="780.9" y1="1406.7" x2="800.3" y2="1415.7"/></g><rect x="784.8" y="1398.8" width="36.0" height="36.0" fill="#ff0000"/><g stroke="#000" stroke-width="8.2" stroke-linecap="round"><line x1="800.3" y1="1415.7" x2="802.8" y2="1416.8"/><line x1="802.8" y1="1416.8" x2="835.1" y2="1426.5"/></g><rect x="819.5" y="1409.1" width="36.2" height="36.2" fill="#ff0000"/><g stroke="#000" stroke-width="8.2" stroke-linecap="round"><line x1="835.1" y1="1426.5" x2="837.6" y2="1427.2"/><line x1="837.6" y1="1427.2" x2="884.9" y2="1432.6"/></g><rect x="869.2" y="1414.6" width="36.6" height="36.6" fill="#ff0000"/><g stroke="#000" stroke-width="8.2" stroke-linecap="round"><line x1="884.9" y1="1432.6" x2="887.4" y2="1432.9"/><line x1="887.4" y1="1432.9" x2="920.8" y2="1433.8"/></g><rect x="904.9" y="1415.5" width="36.8" height="36.8" fill="#ff0000"/><g stroke="#000" stroke-width="8.2" stroke-linecap="round"><line x1="920.8" y1="1433.8" x2="923.3" y2="1433.9"/><line x1="923.3" y1="1433.9" x2="948.9" y2="1430.3"/></g><rect x="933.0" y="1411.4" width="37.0" height="37.0" fill="#ff0000"/><g stroke="#000" stroke-width="8.2" stroke-linecap="round"><line x1="948.9" y1="1430.3" x2="951.5" y2="1429.9"/><line x1="951.5" y1="1429.9" x2="972.2" y2="1426.3"/></g><rect x="956.2" y="1407.2" width="37.2" height="37.2" fill="#ff0000"/><g stroke="#000" stroke-width="8.2" stroke-linecap="round"><line x1="972.2" y1="1426.3" x2="974.8" y2="1425.8"/><line x1="974.8" y1="1425.8" x2="992.1" y2="1421.7"/></g><rect x="975.9" y="1402.4" width="37.3" height="37.3" fill="#ff0000"/><g stroke="#000" stroke-width="8.2" stroke-linecap="round"><line x1="992.1" y1="1421.7" x2="994.6" y2="1421.1"/><line x1="994.6" y1="1421.1" x2="1009.4" y2="1418.2"/></g><rect x="993.2" y="1399.0" width="37.5" height="37.5" fill="#ff0000"/><g stroke="#000" stroke-width="8.2" stroke-linecap="round"><line x1="1009.4" y1="1418.2" x2="1011.9" y2="1417.7"/><line x1="1011.9" y1="1417.7" x2="1024.7" y2="1415.1"/></g><rect x="1008.5" y="1395.8" width="37.6" height="37.6" fill="#ff0000"/><g stroke="#000" stroke-width="8.2" stroke-linecap="round"><line x1="1024.7" y1="1415.1" x2="1027.3" y2="1414.6"/><line x1="1027.3" y1="1414.6" x2="1038.3" y2="1412.3"/></g><rect x="1022.3" y="1392.9" width="37.7" height="37.7" fill="#ff0000"/><g stroke="#000" stroke-width="8.2" stroke-linecap="round"><line x1="1038.3" y1="1412.3" x2="1041.1" y2="1411.7"/><line x1="1041.1" y1="1411.7" x2="1051.2" y2="1409.3"/></g><rect x="1034.8" y="1389.8" width="37.8" height="37.8" fill="#ff0000"/><g stroke="#000" stroke-width="8.2" stroke-linecap="round"><line x1="1051.2" y1="1409.3" x2="1053.7" y2="1408.7"/><line x1="1053.7" y1="1408.7" x2="1062.3" y2="1407.4"/></g><rect x="1046.3" y="1388.0" width="37.9" height="37.9" fill="#ff0000"/><g stroke="#000" stroke-width="8.2" stroke-linecap="round"><line x1="1062.3" y1="1407.4" x2="1065.2" y2="1406.9"/><line x1="1065.2" y1="1406.9" x2="1073.2" y2="1405.4"/></g><rect x="1056.9" y="1385.9" width="37.9" height="37.9" fill="#ff0000"/><g stroke="#000" stroke-width="8.2" stroke-linecap="round"><line x1="1073.2" y1="1405.4" x2="1075.8" y2="1404.9"/><line x1="1075.8" y1="1404.9" x2="1083.3" y2="1403.7"/></g><rect x="1066.7" y="1384.3" width="38.0" height="38.0" fill="#ff0000"/><g stroke="#000" stroke-width="8.2" stroke-linecap="round"><line x1="1083.3" y1="1403.7" x2="1085.7" y2="1403.3"/><line x1="1085.7" y1="1403.3" x2="1091.9" y2="1402.8"/></g><rect x="1075.9" y="1383.5" width="38.1" height="38.1" fill="#ff0000"/><g stroke="#000" stroke-width="8.2" stroke-linecap="round"><line x1="1091.9" y1="1402.8" x2="1095.0" y2="1402.5"/></g>
<polyline points="1838.9,132.9 1787.6,1198.3" stroke="#000" stroke-width="8" fill="none" stroke-linejoin="miter" stroke-miterlimit="2"/>
<line x1="1410.4" y1="188.7" x2="1550" y2="188.7" stroke="#000" stroke-width="9.5"/><circle cx="1550" cy="188.7" r="4.75" fill="#000"/> <rect x="1462.5" y="169.0" width="34" height="35.6" fill="#ff0000"/><text font-family="Liberation Sans, Arial, Helvetica, sans-serif" font-weight="bold" font-size="60.4" transform="translate(1565.5,206.5) scale(1,1.035)">SMG0.0</text><line x1="1410.4" y1="264.1" x2="1550" y2="264.1" stroke="#000" stroke-width="9.5"/><circle cx="1550" cy="264.1" r="4.75" fill="#000"/><circle cx="1479.5" cy="263.5" r="18.6" fill="#0000ff"/><text font-family="Liberation Sans, Arial, Helvetica, sans-serif" font-weight="bold" font-size="60.4" transform="translate(1565.5,281.9) scale(1,1.035)">SMG0.2</text><line x1="1410.4" y1="340.5" x2="1550" y2="340.5" stroke="#000" stroke-width="9.5"/><circle cx="1550" cy="340.5" r="4.75" fill="#000"/><polygon points="1480.6,314.4 1504.4,355.2 1456.8,355.2" fill="#ff00ff"/><text font-family="Liberation Sans, Arial, Helvetica, sans-serif" font-weight="bold" font-size="60.4" transform="translate(1565.5,358.3) scale(1,1.035)">SMG0.4</text><line x1="1410.4" y1="417.5" x2="1550" y2="417.5" stroke="#000" stroke-width="9.5"/><circle cx="1550" cy="417.5" r="4.75" fill="#000"/><polygon points="1480.4,388.2 1488.3,406.6 1508.3,408.4 1493.2,421.7 1497.6,441.2 1480.4,431.0 1463.2,441.2 1467.6,421.7 1452.5,408.4 1472.5,406.6" fill="#ff8000"/><text font-family="Liberation Sans, Arial, Helvetica, sans-serif" font-weight="bold" font-size="60.4" transform="translate(1565.5,435.3) scale(1,1.035)">SMG0.6</text>
</svg></body></html>
